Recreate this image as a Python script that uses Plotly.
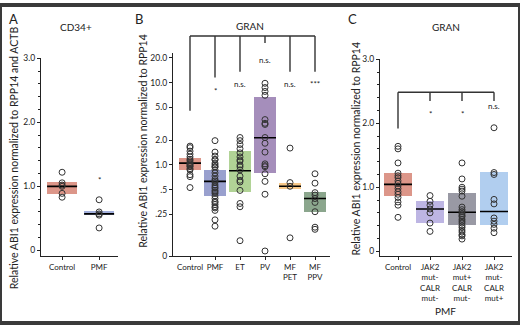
import numpy as np
import plotly.graph_objects as go

W, H = 520, 328
FONT = "Lato"
INK = "#222222"

# ---------------- Panel A (CD34+) ----------------
a_cats = ["Control", "PMF"]
a_points = [
    [1.22, 1.055, 1.02, 1.0, 0.89, 0.83],
    [0.79, 0.60, 0.57, 0.55, 0.35],
]
a_box_lo = [0.87, 0.55]
a_box_hi = [1.07, 0.61]
a_median = [1.0, 0.57]
a_colors = ["#d98b7d", "#9aa8d9"]
a_sig = ["", "*"]
a_sig_y = [None, 1.10]

# ---------------- Panel B (GRAN, log) ----------------
b_cats = ["Control", "PMF", "ET", "PV", "MF<br>PET", "MF<br>PPV"]
b_points = [
    [1.69, 1.62, 1.47, 1.35, 1.25, 1.17, 1.12, 1.06, 1.03, 1.0, 0.97, 0.95, 0.9, 0.87, 0.76, 0.72, 0.53],
    [1.97, 1.43, 1.28, 1.17, 1.15, 1.05, 1.0, 0.955, 0.94, 0.87, 0.8, 0.73, 0.67, 0.64, 0.61, 0.57,
     0.54, 0.52, 0.49, 0.47, 0.45, 0.42, 0.39, 0.36, 0.35, 0.33, 0.31, 0.30, 0.28, 0.215, 0.18],
    [2.15, 1.97, 1.77, 1.57, 1.4, 1.25, 1.15, 1.11, 1.0, 0.95, 0.87, 0.73, 0.65, 0.62, 0.49, 0.34, 0.31, 0.12],
    [25.0, 9.8, 8.7, 7.8, 7.0, 3.55, 3.2, 3.1, 2.15, 1.83, 1.43, 1.03, 0.98, 0.95, 0.78, 0.63, 0.44, 0.09],
    [1.6, 0.61, 0.55, 0.13],
    [0.78, 0.6, 0.46, 0.43, 0.39, 0.35, 0.27, 0.175, 0.165],
]
b_box_lo = [0.87, 0.42, 0.48, 0.80, 0.52, 0.27]
b_box_hi = [1.24, 0.87, 1.50, 6.8, 0.61, 0.47]
b_median = [1.05, 0.63, 0.85, 2.14, 0.55, 0.39]
b_colors = ["#d98b7d", "#8f96c9", "#a9cf8b", "#9c82b4", "#f7c37d", "#7f9d81"]
b_sig = ["", "*", "n.s.", "n.s.", "n.s.", "***"]
b_sig_y = [None, 7.9, 9.7, 18.7, 9.7, 9.6]
b_bracket_top = 36.7
b_bracket_drop = [4.56, 11.5, 13.5, 30.3, 13.5, 13.5]
b_tickvals = [0.078, 0.25, 0.5, 1, 2, 5, 10, 20]
b_ticktext = ["0", ".25", ".5", "1.0", "2.0", "5.0", "10.0", "20.0"]

# ---------------- Panel C (GRAN by mutation) ----------------
c_cats = ["Control", "JAK2<br>mut-<br>CALR<br>mut-", "JAK2<br>mut+<br>CALR<br>mut-", "JAK2<br>mut-<br>CALR<br>mut+"]
c_points = [
    [1.64, 1.6, 1.38, 1.22, 1.18, 1.15, 1.1, 1.06, 1.02, 0.98, 0.93, 0.89, 0.84, 0.77, 0.72, 0.53],
    [0.87, 0.78, 0.72, 0.66, 0.6, 0.44, 0.31],
    [1.38, 1.13, 1.0, 0.97, 0.94, 0.86, 0.69, 0.65, 0.62, 0.59, 0.56, 0.54, 0.5, 0.47, 0.44, 0.4,
     0.37, 0.33, 0.3, 0.26, 0.24, 0.19],
    [1.93, 1.23, 1.2, 0.81, 0.74, 0.52, 0.47, 0.42, 0.36, 0.29],
]
c_box_lo = [0.86, 0.43, 0.41, 0.41]
c_box_hi = [1.22, 0.78, 0.91, 1.23]
c_median = [1.045, 0.66, 0.61, 0.62]
c_colors = ["#d98b7d", "#b6aee0", "#8f8f9b", "#a9c9ee"]
c_sig = ["", "*", "*", "n.s."]
c_sig_y = [None, 2.15, 2.15, 2.27]
c_bracket_top = 2.485
c_bracket_drop = [1.92, 2.35, 2.35, 2.35]

fig = go.Figure()


def add_panel(xa, ya, points, lo, hi, med, colors, box_w, med_px):
    idx = list(range(len(points)))
    fig.add_trace(go.Bar(
        x=idx, y=[h - l for h, l in zip(hi, lo)], base=lo, width=box_w,
        marker=dict(color=colors, line=dict(width=0)), opacity=0.9,
        xaxis=xa, yaxis=ya, showlegend=False, hoverinfo="skip"))
    # line-ew marker spans 1.4 * size pixels
    fig.add_trace(go.Scatter(
        x=idx, y=med, mode="markers", xaxis=xa, yaxis=ya, showlegend=False,
        marker=dict(symbol="line-ew", size=med_px / 1.4, line=dict(width=1.6, color="black")),
        hoverinfo="skip"))
    xs, ys = [], []
    for i, vals in enumerate(points):
        xs += [i] * len(vals)
        ys += vals
    fig.add_trace(go.Scatter(
        x=xs, y=ys, mode="markers", xaxis=xa, yaxis=ya, showlegend=False, cliponaxis=False,
        marker=dict(symbol="circle-open", size=6, color="#333333", line=dict(width=1))))


add_panel("x", "y", a_points, a_box_lo, a_box_hi, a_median, a_colors, 0.82, 30)
add_panel("x2", "y2", b_points, b_box_lo, b_box_hi, b_median, b_colors, 0.88, 22)
add_panel("x3", "y3", c_points, c_box_lo, c_box_hi, c_median, c_colors, 0.86, 28)


def py(p):
    return 1 - p / H


def px(p):
    return p / W


xtickfont = dict(family=FONT, size=8, color=INK)
ytickfont = dict(family=FONT, size=8.5, color=INK)
common_x = dict(showline=True, linecolor=INK, linewidth=1.3, ticks="outside", ticklen=3,
                tickcolor=INK, showgrid=False, zeroline=False, tickfont=xtickfont, fixedrange=True,
                tickangle=0)
common_y = dict(showline=True, linecolor=INK, linewidth=1.3, ticks="outside", ticklen=3,
                tickcolor=INK, showgrid=False, zeroline=False, tickfont=ytickfont, fixedrange=True)

B_DOM = [py(259), py(49)]
B_RNG = [np.log10(0.078), 1.365]

fig.update_layout(
    width=W, height=H, margin=dict(l=0, r=0, t=0, b=0),
    paper_bgcolor="white", plot_bgcolor="rgba(0,0,0,0)",
    bargap=0, barmode="overlay",
    xaxis=dict(domain=[px(41), px(118)], range=[-0.57, 1.51], anchor="y",
               tickvals=list(range(len(a_cats))), ticktext=a_cats, **common_x),
    yaxis=dict(domain=[py(259), py(55)], range=[-0.09, 3.0], anchor="x",
               tickvals=[0, 1, 2, 3], ticktext=["0", "1.0", "2.0", "3.0"],
               minor=dict(dtick=0.2, ticks="outside", ticklen=2, tickcolor=INK), **common_y),
    xaxis2=dict(domain=[px(173), px(330)], range=[-0.68, 5.6], anchor="y2",
                tickvals=list(range(len(b_cats))), ticktext=b_cats, **common_x),
    yaxis2=dict(domain=B_DOM, type="log", range=B_RNG, anchor="x2",
                tickvals=b_tickvals, ticktext=b_ticktext, **common_y),
    xaxis3=dict(domain=[px(380), px(512)], range=[-0.5625, 3.5625], anchor="y3",
                tickvals=list(range(len(c_cats))), ticktext=c_cats, **common_x),
    yaxis3=dict(domain=[py(259), py(56)], range=[-0.076, 3.0], anchor="x3",
                tickvals=[0, 1, 2, 3], ticktext=["0", "1.0", "2.0", "3.0"],
                minor=dict(dtick=0.2, ticks="outside", ticklen=2, tickcolor=INK), **common_y),
)

ann = []
shapes = []


def txt(x, y, s, size=10, xref="paper", yref="paper", angle=0):
    ann.append(dict(x=x, y=y, xref=xref, yref=yref, text=s, showarrow=False, textangle=angle,
                    font=dict(family=FONT, size=size, color=INK), xanchor="center", yanchor="middle"))


def b_paper(v):
    """map a data value on panel B's log axis to paper y"""
    f = (np.log10(v) - B_RNG[0]) / (B_RNG[1] - B_RNG[0])
    return B_DOM[0] + f * (B_DOM[1] - B_DOM[0])


# panel letters and titles
txt(px(13), py(14), "A", 13)
txt(px(139), py(14), "B", 13)
txt(px(352), py(14), "C", 13)
txt(px(76), py(23), "CD34+", 10)
txt(px(250), py(22), "GRAN", 10)
txt(px(446), py(23), "GRAN", 10)
# y axis titles
txt(px(14), py(158), "Relative ABI1 expression normalized to RPP14 and ACTB", 10.5, angle=-90)
txt(px(143), py(140), "Relative ABI1 expression normalized to RPP14", 10.5, angle=-90)
txt(px(356), py(148), "Relative ABI1 expression normalized to RPP14", 10.5, angle=-90)
txt(px(445), py(316), "PMF", 10)

# significance labels
for i, (s, yv) in enumerate(zip(a_sig, a_sig_y)):
    if s:
        txt(i, yv, s, 8, xref="x", yref="y")
for i, (s, yv) in enumerate(zip(b_sig, b_sig_y)):
    if s:
        txt(i, b_paper(yv), s, 8, xref="x2", yref="paper")
for i, (s, yv) in enumerate(zip(c_sig, c_sig_y)):
    if s:
        txt(i, yv, s, 8, xref="x3", yref="y3")

lw = dict(color="#333333", width=1.4)
# bracket B (drawn in paper y so it can sit above the axis range)
shapes.append(dict(type="line", xref="x2", yref="paper", x0=0, x1=len(b_cats) - 1,
                   y0=b_paper(b_bracket_top), y1=b_paper(b_bracket_top), line=lw))
for i, d in enumerate(b_bracket_drop):
    shapes.append(dict(type="line", xref="x2", yref="paper", x0=i, x1=i,
                       y0=b_paper(b_bracket_top), y1=b_paper(d), line=lw))
# bracket C
shapes.append(dict(type="line", xref="x3", yref="y3", x0=0, x1=len(c_cats) - 1,
                   y0=c_bracket_top, y1=c_bracket_top, line=lw))
for i, d in enumerate(c_bracket_drop):
    shapes.append(dict(type="line", xref="x3", yref="y3", x0=i, x1=i,
                       y0=c_bracket_top, y1=d, line=lw))
# figure frame
shapes.append(dict(type="rect", xref="paper", yref="paper", x0=0, x1=1, y0=0, y1=1,
                   line=dict(color="#3a3a3a", width=4)))

fig.update_layout(annotations=ann, shapes=shapes)
fig.write_html("out.html", config={"displayModeBar": False},
               post_script="document.body.style.margin='0';document.body.style.padding='0';"
                           "document.documentElement.style.overflow='hidden';")
